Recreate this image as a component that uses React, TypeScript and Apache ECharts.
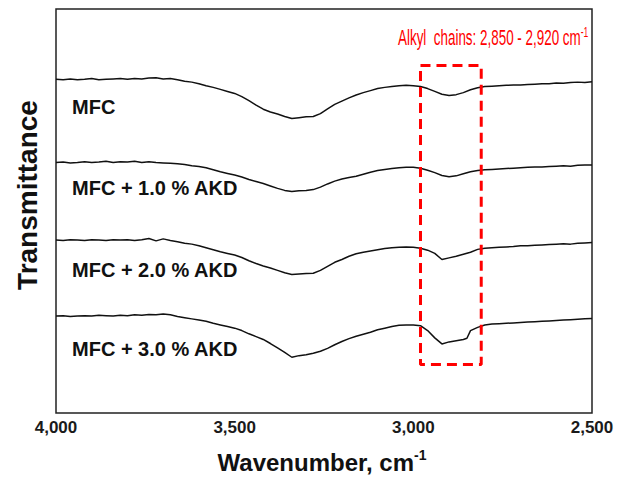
import React, { useEffect, useRef } from "react";
import * as echarts from "echarts";

const xTicks = [4000, 3500, 3000, 2500];

const mfc: [number, number][] = [
  [4000, 82.6], [3980, 82.5], [3960, 82.7], [3940, 82.5], [3920, 82.6], [3900, 82.8], [3880, 82.5], [3860, 82.6],
  [3840, 82.7], [3820, 82.8], [3800, 82.6], [3780, 82.8], [3760, 82.7], [3740, 82.9], [3720, 83.0], [3700, 82.7],
  [3680, 82.8], [3660, 82.5], [3640, 82.1], [3620, 81.9], [3600, 81.5], [3580, 81.0], [3560, 80.6], [3540, 80.1],
  [3520, 79.6], [3500, 79.1], [3480, 78.3], [3460, 77.3], [3440, 76.2], [3420, 75.2], [3400, 74.5], [3380, 74.0],
  [3360, 73.4], [3340, 72.9], [3320, 73.1], [3300, 73.3], [3280, 73.4], [3260, 74.1], [3240, 75.3], [3220, 76.4],
  [3200, 77.2], [3180, 78.0], [3160, 78.7], [3140, 79.3], [3120, 79.8], [3100, 80.3], [3080, 80.6], [3060, 80.8],
  [3040, 81.0], [3020, 81.1], [3000, 81.0], [2980, 80.8], [2960, 80.3], [2940, 79.6], [2920, 78.9], [2900, 78.6],
  [2880, 78.8], [2860, 79.3], [2840, 80.0], [2820, 80.5], [2800, 80.8], [2780, 80.9], [2760, 81.0], [2740, 81.1],
  [2720, 81.2], [2700, 81.2], [2680, 81.3], [2660, 81.4], [2640, 81.5], [2620, 81.5], [2600, 81.7], [2580, 81.6],
  [2560, 81.8], [2540, 81.9], [2520, 81.8], [2500, 82.0],
];

const mfc10: [number, number][] = [
  [4000, 62.0], [3980, 62.1], [3960, 61.9], [3940, 62.0], [3920, 62.2], [3900, 62.0], [3880, 62.1], [3860, 62.3],
  [3840, 62.0], [3820, 62.2], [3800, 62.1], [3780, 62.3], [3760, 62.0], [3740, 62.2], [3720, 62.0], [3700, 61.9],
  [3680, 61.8], [3660, 61.7], [3640, 61.5], [3620, 61.2], [3600, 61.0], [3580, 60.7], [3560, 60.2], [3540, 59.7],
  [3520, 59.3], [3500, 58.9], [3480, 58.4], [3460, 57.8], [3440, 57.3], [3420, 56.8], [3400, 56.2], [3380, 55.6],
  [3360, 55.1], [3340, 54.8], [3320, 55.0], [3300, 55.1], [3280, 55.3], [3260, 55.9], [3240, 56.7], [3220, 57.4],
  [3200, 57.9], [3180, 58.3], [3160, 58.6], [3140, 59.1], [3120, 59.6], [3100, 60.0], [3080, 60.3], [3060, 60.5],
  [3040, 60.7], [3020, 60.8], [3000, 60.8], [2980, 60.6], [2960, 60.1], [2940, 59.5], [2920, 58.8], [2900, 58.5],
  [2880, 58.7], [2860, 59.2], [2840, 59.7], [2820, 60.0], [2800, 60.2], [2780, 60.3], [2760, 60.4], [2740, 60.5],
  [2720, 60.6], [2700, 60.7], [2680, 60.8], [2660, 60.9], [2640, 60.9], [2620, 61.0], [2600, 61.1], [2580, 61.2],
  [2560, 61.1], [2540, 61.3], [2520, 61.4], [2500, 61.4],
];

const mfc20: [number, number][] = [
  [4000, 42.8], [3980, 42.7], [3960, 42.9], [3940, 42.8], [3920, 42.7], [3900, 42.9], [3880, 42.8], [3860, 42.7],
  [3840, 42.9], [3820, 42.8], [3800, 42.9], [3780, 42.7], [3760, 42.9], [3740, 43.2], [3720, 42.6], [3700, 43.1],
  [3680, 42.7], [3660, 42.4], [3640, 42.0], [3620, 41.8], [3600, 41.4], [3580, 40.9], [3560, 40.4], [3540, 39.9],
  [3520, 39.5], [3500, 39.1], [3480, 38.5], [3460, 37.7], [3440, 37.0], [3420, 36.4], [3400, 35.9], [3380, 35.3],
  [3360, 34.7], [3340, 34.3], [3320, 34.4], [3300, 34.5], [3280, 34.6], [3260, 35.3], [3240, 36.3], [3220, 37.3],
  [3200, 38.0], [3180, 38.8], [3160, 39.4], [3140, 39.8], [3120, 40.1], [3100, 40.4], [3080, 40.7], [3060, 40.9],
  [3040, 41.0], [3020, 41.1], [3000, 41.0], [2980, 40.8], [2960, 40.3], [2940, 39.5], [2920, 38.0], [2900, 38.4],
  [2880, 38.8], [2860, 39.3], [2840, 39.8], [2820, 40.5], [2800, 40.8], [2780, 40.9], [2760, 41.0], [2740, 41.1],
  [2720, 41.2], [2700, 41.4], [2680, 41.4], [2660, 41.5], [2640, 41.6], [2620, 41.7], [2600, 41.8], [2580, 41.9],
  [2560, 41.8], [2540, 42.0], [2520, 42.1], [2500, 42.2],
];

const mfc30: [number, number][] = [
  [4000, 24.0], [3980, 24.1], [3960, 23.9], [3940, 24.0], [3920, 24.1], [3900, 24.0], [3880, 24.2], [3860, 24.1],
  [3840, 24.0], [3820, 24.2], [3800, 24.1], [3780, 24.3], [3760, 24.2], [3740, 24.4], [3720, 24.3], [3700, 24.5],
  [3680, 24.3], [3660, 23.9], [3640, 23.6], [3620, 23.3], [3600, 23.0], [3580, 22.7], [3560, 22.2], [3540, 21.8],
  [3520, 21.4], [3500, 21.0], [3480, 20.4], [3460, 19.6], [3440, 18.9], [3420, 18.2], [3400, 17.2], [3380, 16.1],
  [3360, 15.0], [3340, 13.8], [3320, 14.2], [3300, 14.4], [3280, 14.8], [3260, 15.3], [3240, 16.0], [3220, 16.9],
  [3200, 17.7], [3180, 18.4], [3160, 19.0], [3140, 19.5], [3120, 20.0], [3100, 20.6], [3080, 21.0], [3060, 21.4],
  [3040, 21.7], [3020, 21.8], [3000, 21.8], [2980, 21.6], [2960, 20.4], [2940, 18.6], [2920, 17.1], [2900, 17.6],
  [2880, 17.9], [2860, 18.2], [2850, 18.5], [2840, 20.4], [2820, 21.2], [2800, 21.8], [2780, 22.0], [2760, 22.1],
  [2740, 22.2], [2720, 22.3], [2700, 22.4], [2680, 22.5], [2660, 22.6], [2640, 22.7], [2620, 22.8], [2600, 22.9],
  [2580, 23.0], [2560, 23.1], [2540, 23.2], [2520, 23.3], [2500, 23.4],
];

const seriesNames = ["MFC", "MFC + 1.0 % AKD", "MFC + 2.0 % AKD", "MFC + 3.0 % AKD"];
const seriesData = [mfc, mfc10, mfc20, mfc30];

// Highlighted region (wavenumber range and y extent of the dashed box)
const boxX = [2980, 2810];
const boxY = [12, 86];

const FONT = "'Liberation Sans', Arial, sans-serif";

export default function App() {
  const ref = useRef<HTMLDivElement>(null);

  useEffect(() => {
    if (!ref.current) return;
    const chart = echarts.init(ref.current, undefined, { renderer: "svg" });
    const boxData = [
      [boxX[0], boxY[1]],
      [boxX[1], boxY[1]],
      [boxX[1], boxY[0]],
      [boxX[0], boxY[0]],
      [boxX[0], boxY[1]],
    ];
    const labelYs = [108, 189, 271, 350];
    chart.setOption({
      animation: false,
      backgroundColor: "#fff",
      grid: {
        left: 56,
        right: 26,
        top: 9,
        bottom: 66,
        show: true,
        borderColor: "#222",
        borderWidth: 1.5,
        backgroundColor: "transparent",
      },
      xAxis: {
        type: "value",
        min: 2500,
        max: 4000,
        interval: 500,
        inverse: true,
        axisLine: { show: false },
        axisTick: { show: false },
        splitLine: { show: false },
        axisLabel: {
          margin: 6,
          fontFamily: FONT,
          fontSize: 17,
          fontWeight: "bold",
          color: "#1a1a1a",
          formatter: (v: number) => (xTicks.includes(v) ? v.toLocaleString("en-US") : ""),
        },
      },
      yAxis: {
        type: "value",
        min: 0,
        max: 100,
        axisLine: { show: false },
        axisTick: { show: false },
        axisLabel: { show: false },
        splitLine: { show: false },
      },
      series: [
        ...seriesData.map((d, i) => ({
          name: seriesNames[i],
          type: "line",
          data: d,
          showSymbol: false,
          symbol: "none",
          lineStyle: { color: "#111", width: 1.5 },
          z: 3,
        })),
        {
          name: "box",
          type: "line",
          data: boxData,
          showSymbol: false,
          symbol: "none",
          lineStyle: { color: "#ff0000", width: 3, type: [10, 6] },
          z: 4,
        },
      ],
      graphic: [
        ...seriesNames.map((n, i) => ({
          type: "text",
          left: 72,
          top: labelYs[i] - 11,
          style: {
            text: n,
            font: `bold 20px ${FONT}`,
            fill: "#111",
          },
        })),
        {
          type: "text",
          x: 27,
          y: 195,
          rotation: Math.PI / 2,
          style: {
            text: "Transmittance",
            font: `bold 28px ${FONT}`,
            fill: "#111",
            align: "center",
            verticalAlign: "middle",
          },
        },
        {
          type: "text",
          x: 322,
          y: 462,
          style: {
            text: "{a|Wavenumber, cm}{s|-1}",
            align: "center",
            verticalAlign: "middle",
            rich: {
              a: { font: `bold 24px ${FONT}`, fill: "#111", lineHeight: 28 },
              s: { font: `bold 14px ${FONT}`, fill: "#111", verticalAlign: "top", lineHeight: 28 },
            },
          },
        },
        {
          type: "text",
          x: 398,
          y: 38,
          scaleX: 0.61,
          style: {
            text: "{a|Alkyl  chains: 2,850 - 2,920 cm}{s|-1}",
            align: "left",
            verticalAlign: "middle",
            rich: {
              a: { font: `22px ${FONT}`, fill: "#ff0000", lineHeight: 26 },
              s: { font: `14px ${FONT}`, fill: "#ff0000", verticalAlign: "top", lineHeight: 26 },
            },
          },
        },
      ],
    });
    return () => chart.dispose();
  }, []);

  return <div ref={ref} style={{ width: 618, height: 479, position: "absolute", left: 0, top: 0 }} />;
}
